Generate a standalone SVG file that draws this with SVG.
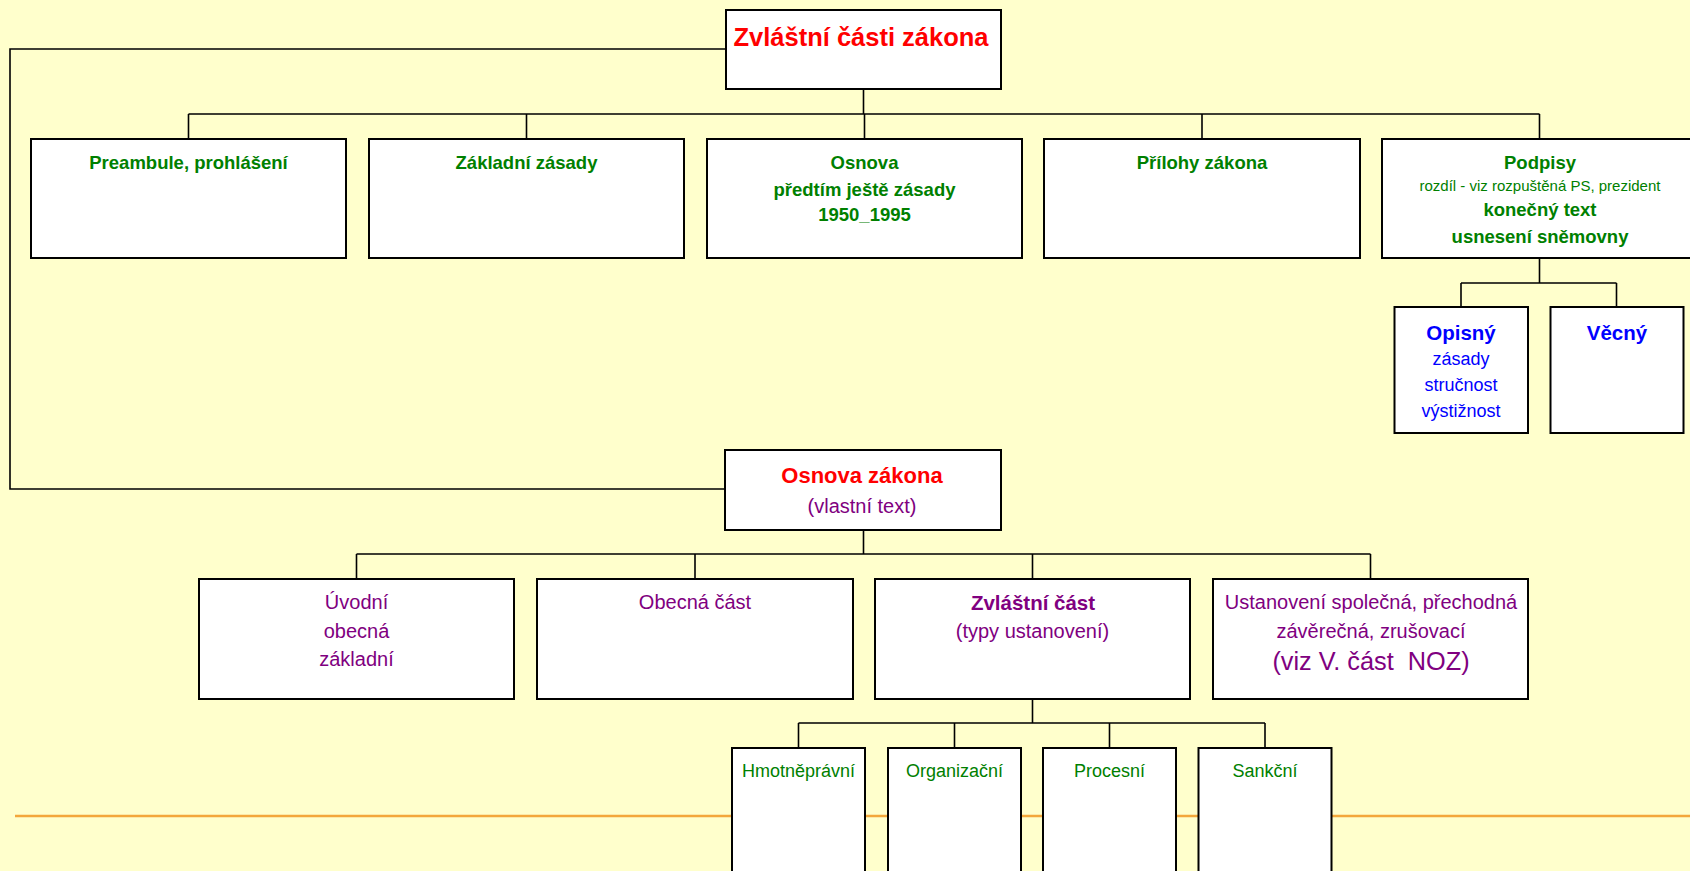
<svg xmlns="http://www.w3.org/2000/svg" width="1690" height="871" viewBox="0 0 1690 871">
<style>
.bg{fill:#FFFFCC}
.box{fill:#FFFFFF;stroke:#000000;stroke-width:2}
.con{fill:none;stroke:#000000;stroke-width:1.6}
text{font-family:"Liberation Sans",Arial,sans-serif;text-anchor:middle}
.red{fill:#FF0000;font-weight:bold}
.g{fill:#008000;font-weight:bold;font-size:18.5px}
.gs{fill:#008000;font-size:15px}
.gn{fill:#008000;font-size:18px}
.bb{fill:#0000FF;font-weight:bold;font-size:20.5px}
.bn{fill:#0000FF;font-size:18px}
.p{fill:#800080;font-size:20px}
.pl{fill:#800080;font-size:25.3px}
.pb{fill:#800080;font-size:20.5px;font-weight:bold}
</style>
<rect class="bg" x="0" y="0" width="1690" height="871"/>
<line x1="15" y1="816" x2="1690" y2="816" stroke="#F3A73B" stroke-width="2.5"/>
<g id="connectors">
<polyline class="con" points="726,49 10,49 10,489 725,489"/>
<path class="con" d="M863.5,89 V114 M188.5,114 H1539.5 M188.5,114 V139 M526.5,114 V139 M864.5,114 V139 M1202,114 V139 M1539.5,114 V139"/>
<path class="con" d="M1539.5,258 V283 M1461,283 H1616.5 M1461,283 V307 M1616.5,283 V307"/>
<path class="con" d="M863.5,530 V554 M356.5,554 H1370.5 M356.5,554 V579 M695,554 V579 M1032.5,554 V579 M1370.5,554 V579"/>
<path class="con" d="M1032.5,699 V723 M798.5,723 H1265 M798.5,723 V748 M954.5,723 V748 M1109.5,723 V748 M1265,723 V748"/>
</g>
<g id="n-zvlastni-casti">
<rect class="box" x="726" y="10" width="275" height="79"/>
<text class="red" x="861" y="46" style="font-size:25.5px">Zvláštní části zákona</text>
</g>
<g id="n-preambule">
<rect class="box" x="31" y="139" width="315" height="119"/>
<text class="g" x="188.5" y="169">Preambule, prohlášení</text>
</g>
<g id="n-zakladni-zasady">
<rect class="box" x="369" y="139" width="315" height="119"/>
<text class="g" x="526.5" y="169">Základní zásady</text>
</g>
<g id="n-osnova">
<rect class="box" x="707" y="139" width="315" height="119"/>
<text class="g" x="864.5" y="169">Osnova</text>
<text class="g" x="864.5" y="196">předtím ještě zásady</text>
<text class="g" x="864.5" y="221">1950_1995</text>
</g>
<g id="n-prilohy">
<rect class="box" x="1044" y="139" width="316" height="119"/>
<text class="g" x="1202" y="169">Přílohy zákona</text>
</g>
<g id="n-podpisy">
<rect class="box" x="1382" y="139" width="315" height="119"/>
<text class="g" x="1540" y="169">Podpisy</text>
<text class="gs" x="1540" y="191">rozdíl - viz rozpuštěná PS, prezident</text>
<text class="g" x="1540" y="216">konečný text</text>
<text class="g" x="1540" y="243">usnesení sněmovny</text>
</g>
<g id="n-opisny">
<rect class="box" x="1394.5" y="307" width="133.5" height="126"/>
<text class="bb" x="1461" y="340">Opisný</text>
<text class="bn" x="1461" y="365">zásady</text>
<text class="bn" x="1461" y="391">stručnost</text>
<text class="bn" x="1461" y="417">výstižnost</text>
</g>
<g id="n-vecny">
<rect class="box" x="1550.5" y="307" width="133" height="126"/>
<text class="bb" x="1617" y="340">Věcný</text>
</g>
<g id="n-osnova-zakona">
<rect class="box" x="725" y="450" width="276" height="80"/>
<text class="red" x="862" y="483" style="font-size:22px">Osnova zákona</text>
<text class="p" x="862" y="512.5">(vlastní text)</text>
</g>
<g id="n-uvodni">
<rect class="box" x="199" y="579" width="315" height="120"/>
<text class="p" x="356.5" y="609">Úvodní</text>
<text class="p" x="356.5" y="638">obecná</text>
<text class="p" x="356.5" y="665.5">základní</text>
</g>
<g id="n-obecna">
<rect class="box" x="537" y="579" width="316" height="120"/>
<text class="p" x="695" y="609">Obecná část</text>
</g>
<g id="n-zvlastni-cast">
<rect class="box" x="875" y="579" width="315" height="120"/>
<text class="pb" x="1033" y="610">Zvláštní část</text>
<text class="p" x="1032.5" y="638">(typy ustanovení)</text>
</g>
<g id="n-ustanoveni">
<rect class="box" x="1213" y="579" width="315" height="120"/>
<text class="p" x="1371" y="609">Ustanovení společná, přechodná</text>
<text class="p" x="1371" y="638">závěrečná, zrušovací</text>
<text class="pl" x="1371" y="670" xml:space="preserve">(viz V. část  NOZ)</text>
</g>
<g id="n-hmotnepravni">
<rect class="box" x="732" y="748" width="133" height="135"/>
<text class="gn" x="798.5" y="777">Hmotněprávní</text>
</g>
<g id="n-organizacni">
<rect class="box" x="888" y="748" width="133" height="135"/>
<text class="gn" x="954.5" y="777">Organizační</text>
</g>
<g id="n-procesni">
<rect class="box" x="1043" y="748" width="133" height="135"/>
<text class="gn" x="1109.5" y="777">Procesní</text>
</g>
<g id="n-sankcni">
<rect class="box" x="1198.5" y="748" width="133" height="135"/>
<text class="gn" x="1265" y="777">Sankční</text>
</g>
</svg>
